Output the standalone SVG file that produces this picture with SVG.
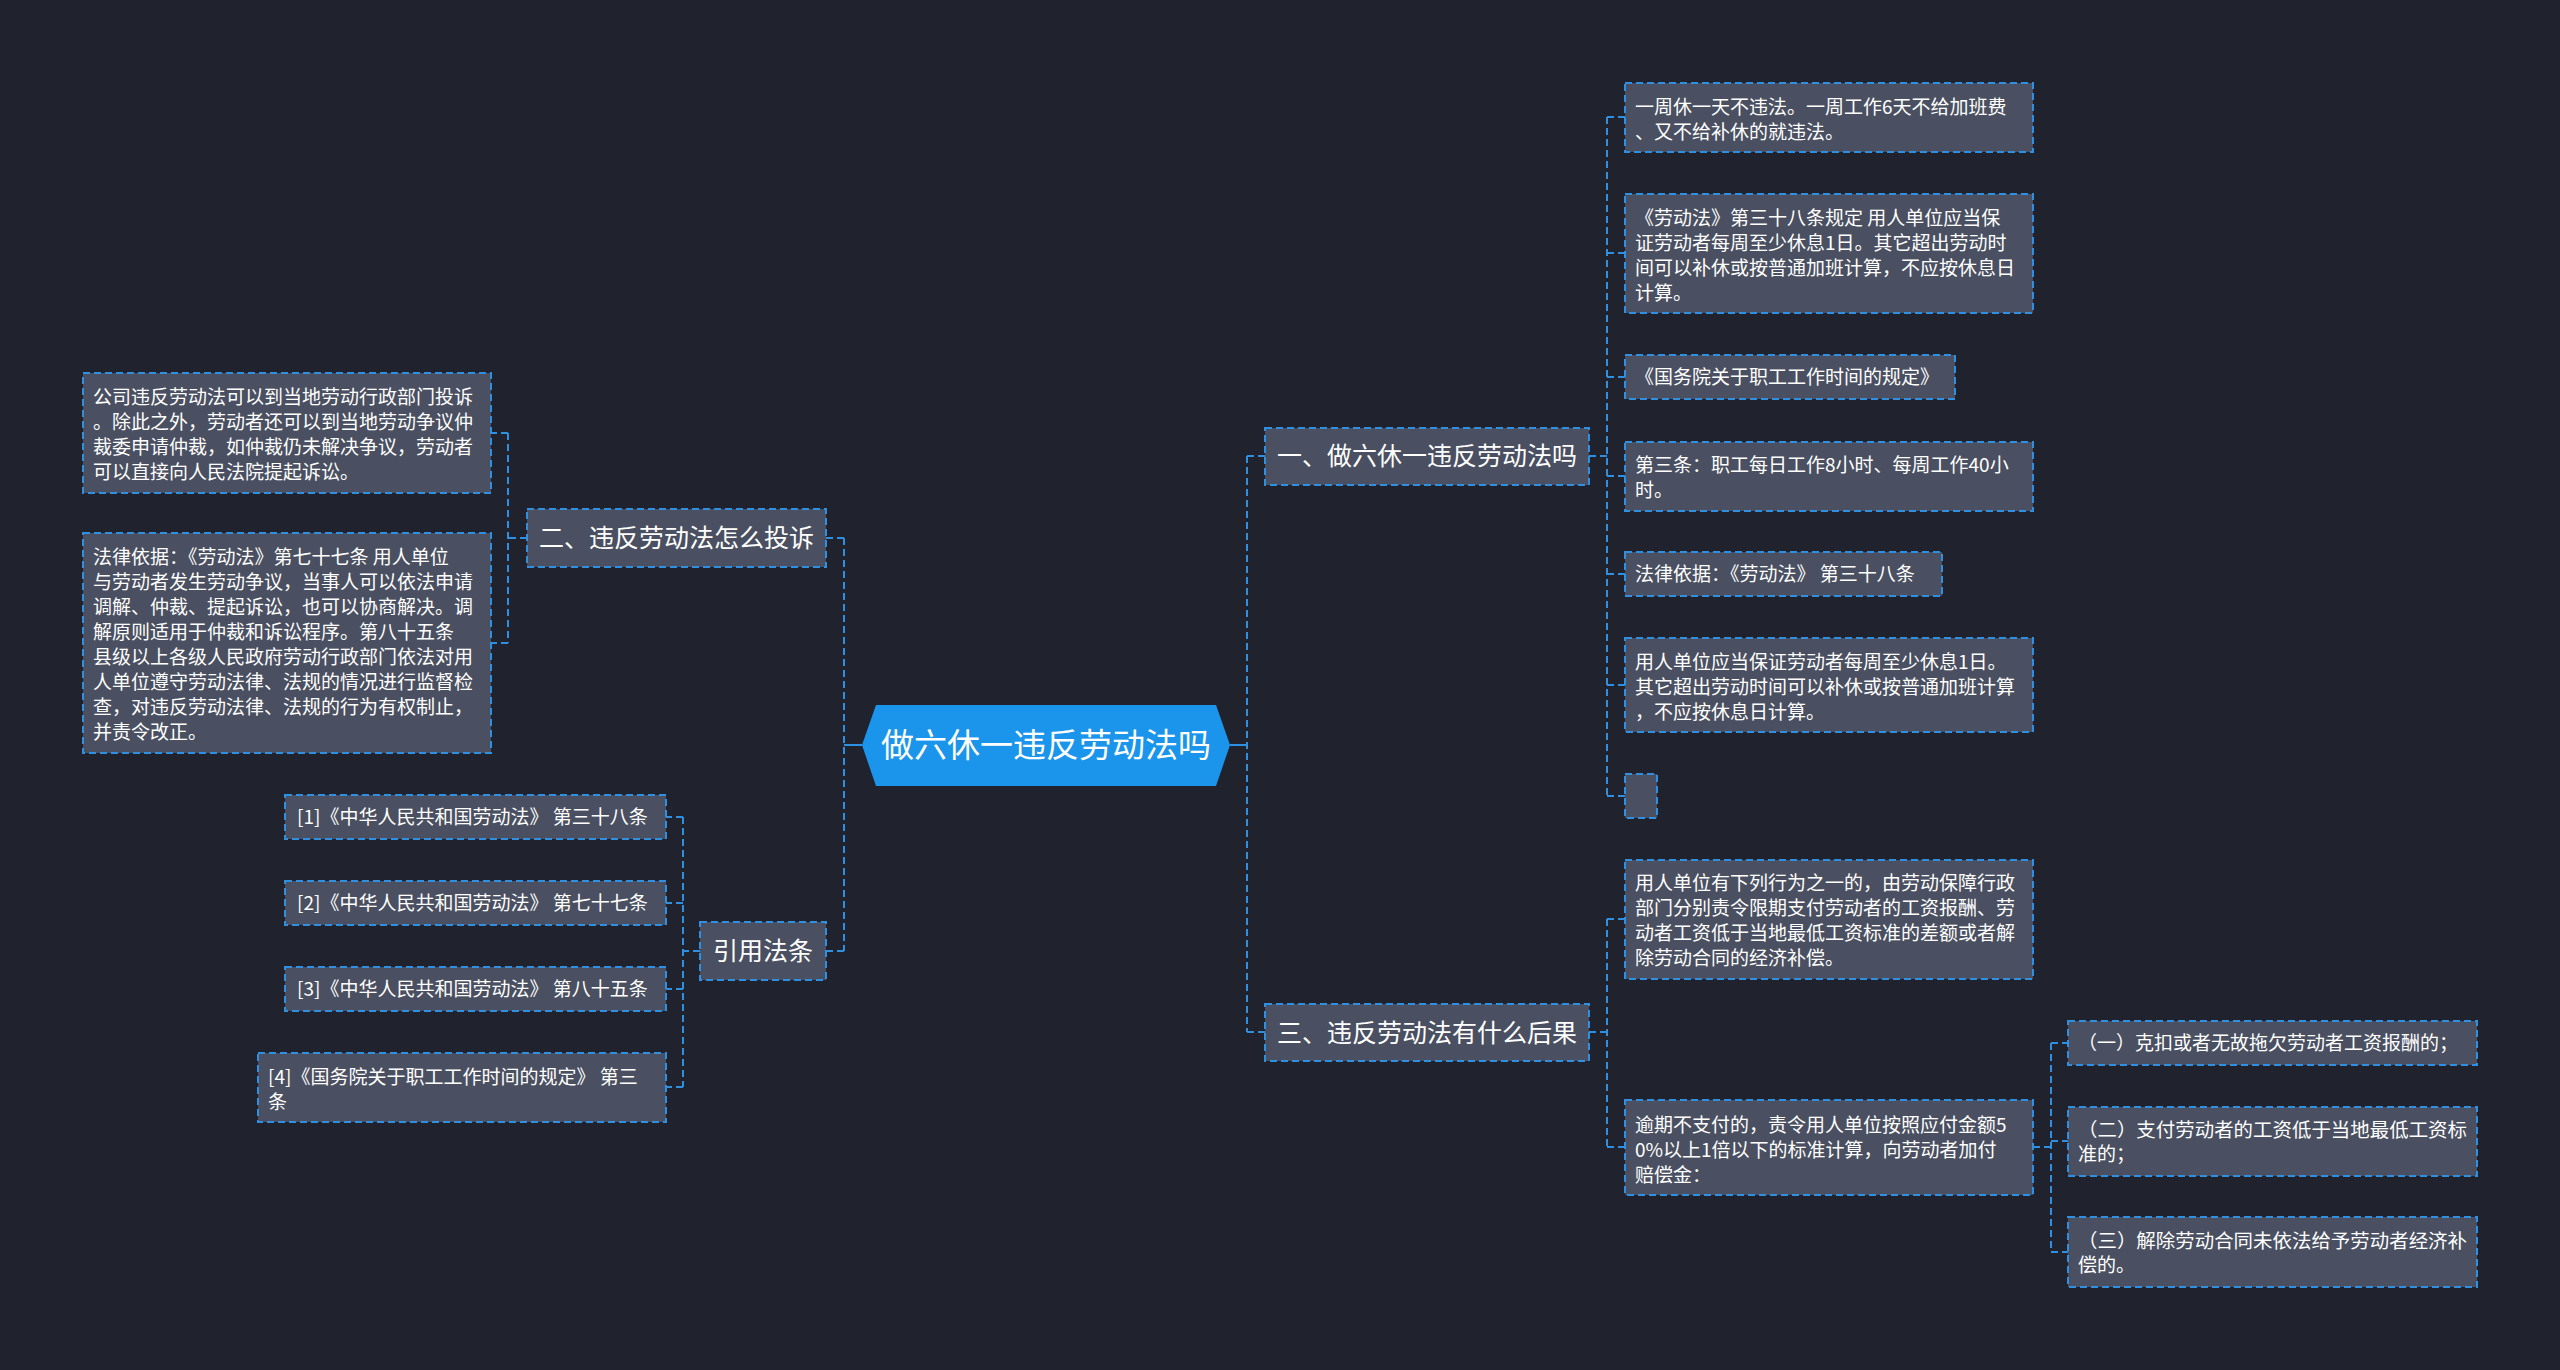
<svg xmlns="http://www.w3.org/2000/svg" width="2560" height="1370" viewBox="0 0 2560 1370">
<style>
.bg{fill:#20232e}
.box{fill:#4a5061;stroke:#2f8fe0;stroke-width:2;stroke-dasharray:7 4}
.root{fill:#1b95ec}
.t{font-family:"Noto Sans CJK SC","Noto Sans",sans-serif;fill:#ffffff}
.t1{font-size:19px}
.t2{font-size:25px}
.t0{font-size:33px}
.c{fill:none;stroke:#2f8fe0;stroke-width:2;stroke-dasharray:7 4}
.cs{fill:none;stroke:#2f8fe0;stroke-width:2}
</style>
<rect class="bg" x="0" y="0" width="2560" height="1370"/>
<g id="connectors">
  <path class="cs" d="M1230 745 H1247"/>
  <path class="cs" d="M862 745 H844"/>
  <path class="c" d="M1247 456 V1032 M1247 456 H1265 M1247 1032 H1265"/>
  <path class="c" d="M844 538 V951 M844 538 H826 M844 951 H826"/>
  <path class="c" d="M1589 456 H1607 M1607 117 V796 M1607 117 H1625 M1607 253 H1625 M1607 377 H1625 M1607 476 H1625 M1607 574 H1625 M1607 685 H1625 M1607 796 H1625"/>
  <path class="c" d="M1589 1032 H1607 M1607 919 V1147 M1607 919 H1625 M1607 1147 H1625"/>
  <path class="c" d="M2033 1147 H2051 M2051 1043 V1252 M2051 1043 H2068 M2051 1141 H2068 M2051 1252 H2068"/>
  <path class="c" d="M527 538 H508 M508 433 V643 M508 433 H491 M508 643 H491"/>
  <path class="c" d="M700 951 H683 M683 817 V1087 M683 817 H666 M683 903 H666 M683 989 H666 M683 1087 H666"/>
</g>
<g id="root">
  <polygon class="root" points="862,745 876,705 1216,705 1230,745 1216,786 876,786"/>
  <text class="t t0" x="1046" y="757" text-anchor="middle">做六休一违反劳动法吗</text>
</g>
<g id="n1">
  <rect class="box" x="1265" y="428" width="324" height="57"/>
  <text class="t t2" x="1277" y="465">一、做六休一违反劳动法吗</text>
</g>
<g id="n3">
  <rect class="box" x="1265" y="1004" width="324" height="57"/>
  <text class="t t2" x="1277" y="1042">三、违反劳动法有什么后果</text>
</g>
<g id="n2">
  <rect class="box" x="527" y="509" width="299" height="58"/>
  <text class="t t2" x="539" y="547">二、违反劳动法怎么投诉</text>
</g>
<g id="n4">
  <rect class="box" x="700" y="922" width="126" height="58"/>
  <text class="t t2" x="713" y="960">引用法条</text>
</g>
<g id="a1">
  <rect class="box" x="1625" y="83" width="408" height="69"/>
  <text class="t t1"><tspan x="1635" y="114">一周休一天不违法。一周工作6天不给加班费</tspan><tspan x="1635" y="139">、又不给补休的就违法。</tspan></text>
</g>
<g id="a2">
  <rect class="box" x="1625" y="194" width="408" height="119"/>
  <text class="t t1"><tspan x="1635" y="225">《劳动法》第三十八条规定 用人单位应当保</tspan><tspan x="1635" y="250">证劳动者每周至少休息1日。其它超出劳动时</tspan><tspan x="1635" y="275">间可以补休或按普通加班计算，不应按休息日</tspan><tspan x="1635" y="300">计算。</tspan></text>
</g>
<g id="a3">
  <rect class="box" x="1625" y="355" width="330" height="44"/>
  <text class="t t1" x="1635" y="384">《国务院关于职工工作时间的规定》</text>
</g>
<g id="a4">
  <rect class="box" x="1625" y="442" width="408" height="69"/>
  <text class="t t1"><tspan x="1635" y="472">第三条：职工每日工作8小时、每周工作40小</tspan><tspan x="1635" y="497">时。</tspan></text>
</g>
<g id="a5">
  <rect class="box" x="1625" y="552" width="317" height="44"/>
  <text class="t t1" x="1635" y="581">法律依据：《劳动法》 第三十八条</text>
</g>
<g id="a6">
  <rect class="box" x="1625" y="638" width="408" height="94"/>
  <text class="t t1"><tspan x="1635" y="669">用人单位应当保证劳动者每周至少休息1日。</tspan><tspan x="1635" y="694">其它超出劳动时间可以补休或按普通加班计算</tspan><tspan x="1635" y="719">，不应按休息日计算。</tspan></text>
</g>
<g id="a7">
  <rect class="box" x="1625" y="774" width="32" height="44"/>
</g>
<g id="b1">
  <rect class="box" x="1625" y="860" width="408" height="119"/>
  <text class="t t1"><tspan x="1635" y="890">用人单位有下列行为之一的，由劳动保障行政</tspan><tspan x="1635" y="915">部门分别责令限期支付劳动者的工资报酬、劳</tspan><tspan x="1635" y="940">动者工资低于当地最低工资标准的差额或者解</tspan><tspan x="1635" y="965">除劳动合同的经济补偿。</tspan></text>
</g>
<g id="b2">
  <rect class="box" x="1625" y="1100" width="408" height="95"/>
  <text class="t t1"><tspan x="1635" y="1132">逾期不支付的，责令用人单位按照应付金额5</tspan><tspan x="1635" y="1157">0%以上1倍以下的标准计算，向劳动者加付</tspan><tspan x="1635" y="1182">赔偿金：</tspan></text>
</g>
<g id="c1">
  <rect class="box" x="2068" y="1021" width="409" height="44"/>
  <text class="t t1" x="2078" y="1050">（一）克扣或者无故拖欠劳动者工资报酬的；</text>
</g>
<g id="c2">
  <rect class="box" x="2068" y="1107" width="409" height="69"/>
  <text class="t t1"><tspan x="2078" y="1137" textLength="389" lengthAdjust="spacingAndGlyphs">（二）支付劳动者的工资低于当地最低工资标</tspan><tspan x="2078" y="1161">准的；</tspan></text>
</g>
<g id="c3">
  <rect class="box" x="2068" y="1217" width="409" height="70"/>
  <text class="t t1"><tspan x="2078" y="1248" textLength="389" lengthAdjust="spacingAndGlyphs">（三）解除劳动合同未依法给予劳动者经济补</tspan><tspan x="2078" y="1272">偿的。</tspan></text>
</g>
<g id="l1">
  <rect class="box" x="83" y="373" width="408" height="120"/>
  <text class="t t1"><tspan x="93" y="404">公司违反劳动法可以到当地劳动行政部门投诉</tspan><tspan x="93" y="429">。除此之外，劳动者还可以到当地劳动争议仲</tspan><tspan x="93" y="454">裁委申请仲裁，如仲裁仍未解决争议，劳动者</tspan><tspan x="93" y="479">可以直接向人民法院提起诉讼。</tspan></text>
</g>
<g id="l2">
  <rect class="box" x="83" y="533" width="408" height="220"/>
  <text class="t t1"><tspan x="93" y="564">法律依据：《劳动法》第七十七条 用人单位</tspan><tspan x="93" y="589">与劳动者发生劳动争议，当事人可以依法申请</tspan><tspan x="93" y="614">调解、仲裁、提起诉讼，也可以协商解决。调</tspan><tspan x="93" y="639">解原则适用于仲裁和诉讼程序。第八十五条</tspan><tspan x="93" y="664">县级以上各级人民政府劳动行政部门依法对用</tspan><tspan x="93" y="689">人单位遵守劳动法律、法规的情况进行监督检</tspan><tspan x="93" y="714">查，对违反劳动法律、法规的行为有权制止，</tspan><tspan x="93" y="739">并责令改正。</tspan></text>
</g>
<g id="r1">
  <rect class="box" x="285" y="795" width="381" height="44"/>
  <text class="t t1" x="297" y="824">[1]《中华人民共和国劳动法》 第三十八条</text>
</g>
<g id="r2">
  <rect class="box" x="285" y="881" width="381" height="44"/>
  <text class="t t1" x="297" y="910">[2]《中华人民共和国劳动法》 第七十七条</text>
</g>
<g id="r3">
  <rect class="box" x="285" y="967" width="381" height="44"/>
  <text class="t t1" x="297" y="996">[3]《中华人民共和国劳动法》 第八十五条</text>
</g>
<g id="r4">
  <rect class="box" x="258" y="1053" width="408" height="69"/>
  <text class="t t1"><tspan x="268" y="1084">[4]《国务院关于职工工作时间的规定》 第三</tspan><tspan x="268" y="1109">条</tspan></text>
</g>
</svg>
